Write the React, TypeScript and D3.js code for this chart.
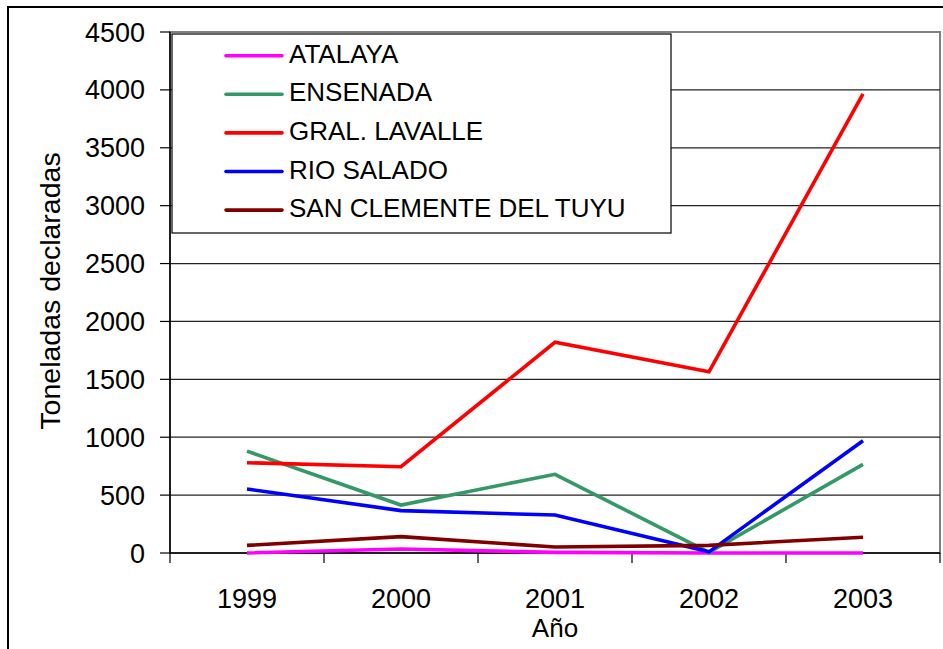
import React from 'react'
import * as d3 from 'd3'

const years = ['1999', '2000', '2001', '2002', '2003']
const seriesNames = ['ATALAYA', 'ENSENADA', 'GRAL. LAVALLE', 'RIO SALADO', 'SAN CLEMENTE DEL TUYU']
const atalaya = [0, 35, 5, 0, 0]
const ensenada = [880, 414, 680, 5, 766]
const gralLavalle = [780, 745, 1820, 1565, 3965]
const rioSalado = [553, 366, 328, 10, 970]
const sanClemente = [66, 141, 52, 66, 136]
const yTicks = [0, 500, 1000, 1500, 2000, 2500, 3000, 3500, 4000, 4500]
const colors = ['#ff00ff', '#339966', '#ff0000', '#0000ff', '#800000']

const W = 943
const H = 649
const font = '"Liberation Sans", Arial, sans-serif'

export default function App() {
  const allSeries = [atalaya, ensenada, gralLavalle, rioSalado, sanClemente]

  const x = d3.scaleBand<string>().domain(years).range([170, 940]).padding(0)
  const y = d3.scaleLinear().domain([0, 4500]).range([553, 32])
  const cx = (d: string) => (x(d) as number) + x.bandwidth() / 2

  const line = d3.line<number>()
    .x((_, i) => cx(years[i]))
    .y((v) => y(v))

  // tick positions on the category axis sit on the band edges
  const xEdges = years.map((d) => x(d) as number).concat([x.range()[1]])

  const legendRow = (i: number) => 55.7 + i * 38.6

  return (
    <svg width={W} height={H} style={{ position: 'absolute', left: 0, top: 0, background: '#fff' }}
      fontFamily={font}>
      <rect x={0} y={0} width={W} height={H} fill="#fff" />
      {/* outer chart border */}
      <rect x={8} y={7} width={W + 10} height={H + 10} fill="none" stroke="#000" strokeWidth={2} />

      {/* plot area */}
      <rect x={170} y={32} width={770} height={521} fill="#fff" stroke="#808080" strokeWidth={2} />
      {yTicks.slice(1, -1).map((t) => (
        <line key={t} x1={170} x2={940} y1={y(t)} y2={y(t)} stroke="#222" strokeWidth={1.2} />
      ))}

      {/* axes */}
      <line x1={170} x2={170} y1={32} y2={553} stroke="#000" strokeWidth={1.5} />
      <line x1={170} x2={940} y1={553} y2={553} stroke="#000" strokeWidth={1.5} />
      {yTicks.map((t) => (
        <g key={t}>
          <line x1={160} x2={170} y1={y(t)} y2={y(t)} stroke="#000" strokeWidth={1.2} />
          <text x={145} y={y(t) + 9.5} textAnchor="end" fontSize={27}>{t}</text>
        </g>
      ))}
      {xEdges.map((e, i) => (
        <line key={i} x1={e} x2={e} y1={553} y2={563} stroke="#000" strokeWidth={1.2} />
      ))}
      {years.map((d) => (
        <text key={d} x={cx(d)} y={608} textAnchor="middle" fontSize={27}>{d}</text>
      ))}

      <text x={555} y={637} textAnchor="middle" fontSize={26}>Año</text>
      <text transform="translate(60,291) rotate(-90)" textAnchor="middle" fontSize={28.5}>
        Toneladas declaradas
      </text>

      {/* series */}
      {allSeries.map((s, i) => (
        <path key={i} d={line(s) || ''} fill="none" stroke={colors[i]} strokeWidth={3.6}
          strokeLinejoin="miter" />
      ))}

      {/* legend */}
      <rect x={172} y={34} width={499} height={199} fill="#fff" stroke="#000" strokeWidth={1.2} />
      {seriesNames.map((n, i) => (
        <g key={n}>
          <line x1={226} x2={282} y1={legendRow(i)} y2={legendRow(i)} stroke={colors[i]}
            strokeWidth={3.6} strokeLinecap="round" />
          <text x={289} y={legendRow(i) + 7} fontSize={26}>{n}</text>
        </g>
      ))}
    </svg>
  )
}
